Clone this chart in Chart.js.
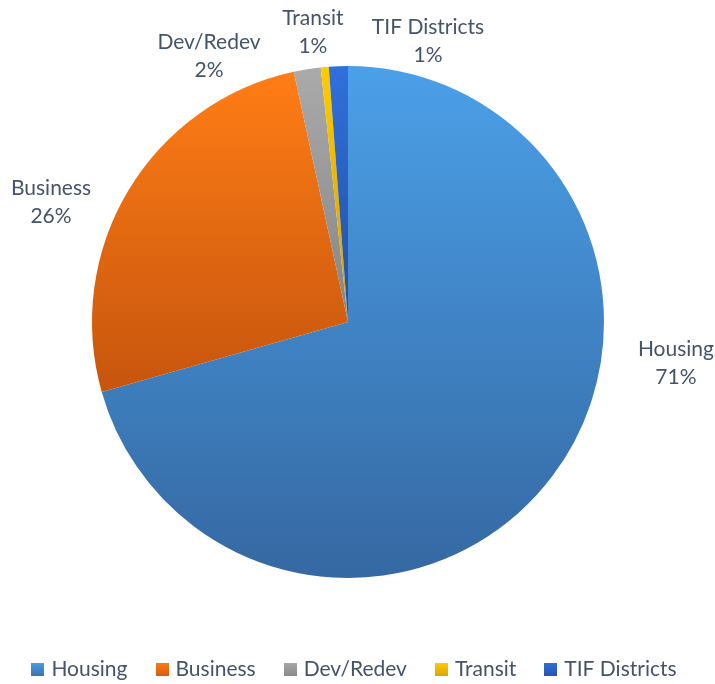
<!DOCTYPE html>
<html>
<head>
<meta charset="utf-8">
<script src="https://cdn.jsdelivr.net/npm/chart.js@4/dist/chart.umd.min.js"></script>
<style>
  html, body { margin: 0; padding: 0; background: #ffffff; }
  #wrap { width: 715px; height: 684px; position: relative; }
</style>
</head>
<body>
<div id="wrap"><canvas id="c" width="715" height="684"></canvas></div>
<script>
// ---- data ----
const categories = ['Housing', 'Business', 'Dev/Redev', 'Transit', 'TIF Districts'];
const shares = [70.6, 26.0, 1.7, 0.5, 1.2];

// ---- styles ----
const topColors = ['#4BA0E8', '#FF7D15', '#AAAAAA', '#FFCC00', '#3070DC'];
const bottomColors = ['#3568A2', '#C6550E', '#858585', '#D49E00', '#23509F'];
const legendTop = ['#4A9EE6', '#FF7A14', '#A8A8A8', '#FFCB00', '#2F6FDA'];
const legendBottom = ['#3A73B2', '#D65F10', '#8A8A8A', '#DDA600', '#2757AE'];
// label block centres, in units of pie radius relative to pie centre
const labelAnchors = [[1.281, 0.160], [-1.160, -0.469], [-0.543, -1.039], [-0.137, -1.133], [0.3125, -1.098]];
const textColor = '#44546A';
const fontFamily = 'Lato, "Open Sans", sans-serif';

function pieGeom(chart) {
  const a = chart.chartArea;
  const cx = (a.left + a.right) / 2, cy = (a.top + a.bottom) / 2;
  const r = Math.min(a.right - a.left, a.bottom - a.top) / 2;
  return { cx, cy, r };
}

function sliceGradient(context) {
  const chart = context.chart;
  const i = context.dataIndex;
  if (!chart.chartArea || i === undefined) return topColors[i] || '#888';
  const { cx, cy, r } = pieGeom(chart);
  const total = shares.reduce((s, v) => s + v, 0);
  let before = 0;
  for (let k = 0; k < i; k++) before += shares[k];
  const a0 = -Math.PI / 2 + (before / total) * 2 * Math.PI;
  const a1 = a0 + (shares[i] / total) * 2 * Math.PI;
  let minY = cy, maxY = cy;
  const steps = 64;
  for (let s = 0; s <= steps; s++) {
    const a = a0 + (a1 - a0) * s / steps;
    const y = cy + r * Math.sin(a);
    minY = Math.min(minY, y); maxY = Math.max(maxY, y);
  }
  const g = chart.ctx.createLinearGradient(0, minY, 0, maxY);
  g.addColorStop(0, topColors[i]);
  g.addColorStop(1, bottomColors[i]);
  return g;
}

const outsideLabels = {
  id: 'outsideLabels',
  afterDatasetsDraw(chart) {
    const { ctx } = chart;
    const { cx, cy, r } = pieGeom(chart);
    const total = shares.reduce((s, v) => s + v, 0);
    ctx.save();
    ctx.fillStyle = textColor;
    ctx.font = '21px ' + fontFamily;
    ctx.textAlign = 'center';
    ctx.textBaseline = 'middle';
    categories.forEach((name, i) => {
      const x = cx + labelAnchors[i][0] * r;
      const y = cy + labelAnchors[i][1] * r;
      const pct = Math.round(shares[i] / total * 100) + '%';
      ctx.fillText(name, x, y - 14);
      ctx.fillText(pct, x, y + 14);
    });
    ctx.restore();
  }
};

// legend spanning the full canvas width, below the pie
const bottomLegend = {
  id: 'bottomLegend',
  afterDraw(chart) {
    const { ctx } = chart;
    const box = 13, gapText = 7, gapItem = 28;
    const rowY = 669, centerX = 354;
    ctx.save();
    ctx.font = '21px ' + fontFamily;
    const widths = categories.map(t => box + gapText + ctx.measureText(t).width);
    const total = widths.reduce((s, w) => s + w, 0) + gapItem * (categories.length - 1);
    let x = centerX - total / 2;
    ctx.textBaseline = 'middle';
    ctx.textAlign = 'left';
    categories.forEach((name, i) => {
      const g = ctx.createLinearGradient(0, rowY - box / 2, 0, rowY + box / 2);
      g.addColorStop(0, legendTop[i]);
      g.addColorStop(1, legendBottom[i]);
      ctx.fillStyle = g;
      ctx.fillRect(Math.round(x), Math.round(rowY - box / 2), box, box);
      ctx.fillStyle = textColor;
      ctx.fillText(name, x + box + gapText, rowY);
      x += widths[i] + gapItem;
    });
    ctx.restore();
  }
};

new Chart(document.getElementById('c'), {
  type: 'pie',
  data: {
    labels: categories,
    datasets: [{
      data: shares,
      backgroundColor: sliceGradient,
      borderWidth: 0
    }]
  },
  options: {
    responsive: false,
    animation: false,
    layout: { padding: { top: 66, left: 92, right: 111, bottom: 106 } },
    plugins: {
      tooltip: { enabled: false },
      legend: { display: false }
    }
  },
  plugins: [outsideLabels, bottomLegend]
});
</script>
</body>
</html>
